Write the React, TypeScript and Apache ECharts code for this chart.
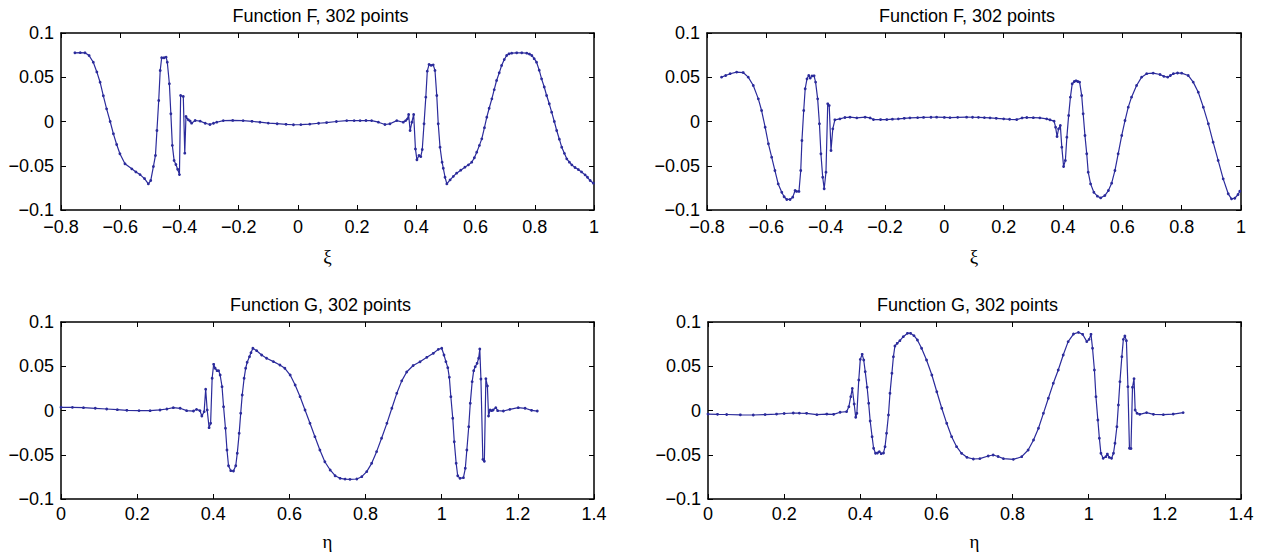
import React, { useEffect, useRef } from "react";
import * as echarts from "echarts";

// ---- Data ----
const TITLE_F = "Function F, 302 points";
const TITLE_G = "Function G, 302 points";
const XI_TICKS = { min: -0.8, max: 1, step: 0.2 };
const ETA_TICKS = { min: 0, max: 1.4, step: 0.2 };
const Y_TICKS = { min: -0.1, max: 0.1, step: 0.05 };

const F_LEFT: [number, number][] = [
  [-0.753, 0.0776], [-0.735, 0.0778], [-0.719, 0.0776], [-0.705, 0.0745], [-0.691, 0.067],
  [-0.679, 0.056], [-0.668, 0.0444], [-0.657, 0.029], [-0.646, 0.0143], [-0.634, 0.0],
  [-0.623, -0.0139], [-0.612, -0.026], [-0.601, -0.0365], [-0.584, -0.0478], [-0.561, -0.0535],
  [-0.547, -0.057], [-0.533, -0.06], [-0.518, -0.0645], [-0.505, -0.0705], [-0.497, -0.0667],
  [-0.488, -0.0509], [-0.481, -0.0384], [-0.476, -0.0102], [-0.47, 0.0237], [-0.465, 0.0576],
  [-0.46, 0.072], [-0.452, 0.072], [-0.445, 0.0727], [-0.441, 0.067], [-0.434, 0.0426],
  [-0.429, 0.0087], [-0.424, -0.027], [-0.418, -0.044], [-0.412, -0.0486], [-0.406, -0.054],
  [-0.4, -0.06], [-0.396, 0.0294], [-0.387, 0.0283], [-0.382, -0.0358], [-0.378, 0.0057],
  [-0.37, 0.0019], [-0.364, 0.0005], [-0.359, -0.0019], [-0.347, 0.0011], [-0.33, 0.0004],
  [-0.313, -0.002], [-0.297, -0.0034], [-0.285, -0.002], [-0.274, -0.0008], [-0.252, 0.001],
  [-0.22, 0.0012], [-0.185, 0.001], [-0.155, 0.0002], [-0.128, -0.0008], [-0.1, -0.0018],
  [-0.07, -0.0025], [-0.04, -0.0032], [-0.015, -0.0037], [0.01, -0.0035], [0.04, -0.003],
  [0.07, -0.002], [0.097, -0.0012], [0.13, 0.0], [0.165, 0.001], [0.19, 0.001], [0.21, 0.001],
  [0.23, 0.0011], [0.249, 0.001], [0.272, -0.0008], [0.294, -0.0034], [0.311, -0.0026], [0.334, 0.001],
  [0.356, -0.0008], [0.364, 0.001], [0.37, 0.003], [0.374, 0.0079], [0.379, -0.0102],
  [0.385, -0.0008], [0.391, 0.0079], [0.397, -0.031], [0.402, -0.0433], [0.409, -0.0384],
  [0.415, -0.0397], [0.42, -0.0317], [0.426, -0.0026], [0.432, 0.0275], [0.437, 0.0569],
  [0.443, 0.0645], [0.45, 0.0634], [0.457, 0.064], [0.463, 0.0577], [0.469, 0.0294],
  [0.474, -0.0026], [0.48, -0.029], [0.487, -0.046], [0.491, -0.0528], [0.497, -0.063],
  [0.503, -0.0705], [0.514, -0.066], [0.525, -0.062], [0.536, -0.0584], [0.55, -0.055],
  [0.564, -0.0516], [0.576, -0.049], [0.587, -0.046], [0.596, -0.041], [0.604, -0.0347],
  [0.613, -0.027], [0.621, -0.0196], [0.63, -0.007], [0.638, 0.0049], [0.646, 0.015],
  [0.655, 0.0256], [0.663, 0.036], [0.671, 0.0463], [0.68, 0.055], [0.688, 0.0633],
  [0.697, 0.07], [0.705, 0.0746], [0.713, 0.0765], [0.722, 0.0772], [0.739, 0.0776],
  [0.756, 0.0776], [0.773, 0.0772], [0.782, 0.0762], [0.79, 0.0746], [0.798, 0.071],
  [0.806, 0.067], [0.815, 0.058], [0.823, 0.0482], [0.832, 0.039], [0.84, 0.0294],
  [0.849, 0.02], [0.857, 0.0105], [0.866, 0.0], [0.874, -0.0102], [0.883, -0.02],
  [0.891, -0.029], [0.9, -0.036], [0.908, -0.0422], [0.917, -0.046], [0.925, -0.049],
  [0.936, -0.052], [0.947, -0.0543], [0.958, -0.057], [0.97, -0.0603], [0.978, -0.063],
  [0.987, -0.0667], [0.998, -0.0697],
];

const F_RIGHT: [number, number][] = [
  [-0.751, 0.0501], [-0.737, 0.052], [-0.722, 0.054], [-0.7, 0.0558], [-0.678, 0.0553],
  [-0.661, 0.0501], [-0.644, 0.0407], [-0.627, 0.0256], [-0.616, 0.0124], [-0.604, -0.0064],
  [-0.593, -0.0252], [-0.582, -0.0403], [-0.571, -0.0554], [-0.56, -0.0705], [-0.548, -0.08],
  [-0.54, -0.085], [-0.531, -0.0881], [-0.52, -0.0881], [-0.511, -0.0855], [-0.503, -0.078],
  [-0.498, -0.079], [-0.49, -0.079], [-0.484, -0.0554], [-0.48, -0.0215], [-0.474, 0.0124],
  [-0.469, 0.037], [-0.463, 0.0482], [-0.457, 0.052], [-0.452, 0.049], [-0.446, 0.0515],
  [-0.439, 0.0516], [-0.434, 0.0445], [-0.427, 0.0256], [-0.421, -0.0026], [-0.416, -0.0365],
  [-0.41, -0.063], [-0.405, -0.076], [-0.399, -0.0573], [-0.393, 0.02], [-0.388, 0.018],
  [-0.382, -0.0328], [-0.376, -0.0083], [-0.369, 0.0019], [-0.352, 0.003], [-0.335, 0.0045],
  [-0.318, 0.0049], [-0.295, 0.0041], [-0.267, 0.0049], [-0.25, 0.004], [-0.239, 0.0022],
  [-0.215, 0.0022], [-0.194, 0.0022], [-0.175, 0.0026], [-0.155, 0.003], [-0.135, 0.0036],
  [-0.116, 0.0041], [-0.09, 0.0044], [-0.07, 0.0046], [-0.045, 0.0048], [-0.026, 0.0049],
  [0.0, 0.0046], [0.019, 0.0044], [0.045, 0.0047], [0.075, 0.0049], [0.095, 0.0048],
  [0.115, 0.0047], [0.135, 0.0044], [0.154, 0.0041], [0.175, 0.0036], [0.2, 0.003], [0.22, 0.0025],
  [0.244, 0.0022], [0.262, 0.004], [0.278, 0.0045], [0.3, 0.0043], [0.322, 0.0041], [0.345, 0.003],
  [0.356, 0.0019], [0.37, 0.0004], [0.375, -0.0064], [0.38, -0.017], [0.385, -0.0083],
  [0.391, -0.0045], [0.396, -0.029], [0.402, -0.0509], [0.408, -0.044], [0.413, -0.0177],
  [0.419, 0.0068], [0.425, 0.0275], [0.431, 0.0426], [0.438, 0.0452], [0.444, 0.046],
  [0.45, 0.0452], [0.456, 0.0445], [0.463, 0.0294], [0.468, 0.0087], [0.474, -0.0158],
  [0.48, -0.0365], [0.485, -0.0573], [0.493, -0.0705], [0.504, -0.08], [0.516, -0.0844],
  [0.527, -0.0863], [0.541, -0.0837], [0.553, -0.078], [0.564, -0.0697], [0.575, -0.0554],
  [0.586, -0.0365], [0.598, -0.0158], [0.609, 0.0011], [0.62, 0.0162], [0.631, 0.0275],
  [0.648, 0.0407], [0.665, 0.0501], [0.682, 0.054], [0.704, 0.0546], [0.727, 0.0531],
  [0.74, 0.051], [0.753, 0.0501], [0.762, 0.052], [0.772, 0.054], [0.786, 0.0548],
  [0.8, 0.0546], [0.822, 0.052], [0.839, 0.0445], [0.856, 0.0331], [0.873, 0.0162],
  [0.89, -0.0026], [0.906, -0.0234], [0.923, -0.044], [0.94, -0.0648], [0.957, -0.0817],
  [0.968, -0.0874], [0.979, -0.0867], [0.99, -0.0825], [0.996, -0.0788],
];

const G_LEFT: [number, number][] = [
  [0.0, 0.0036], [0.03, 0.0035], [0.059, 0.0032], [0.09, 0.0025], [0.12, 0.0017],
  [0.148, 0.0009], [0.173, 0.0002], [0.205, -0.0001], [0.234, -0.0002],
  [0.26, 0.0006], [0.278, 0.0017], [0.295, 0.0032], [0.313, 0.0025], [0.33, -0.0002],
  [0.348, -0.0006], [0.356, 0.0013], [0.365, -0.0002], [0.37, -0.0062], [0.376, -0.0013],
  [0.38, 0.024], [0.384, 0.0006], [0.389, -0.0194], [0.393, -0.0145], [0.397, 0.0364],
  [0.401, 0.0522], [0.405, 0.0477], [0.41, 0.045], [0.414, 0.045], [0.418, 0.0401],
  [0.423, 0.0269], [0.427, 0.0043], [0.432, -0.0201], [0.436, -0.0446], [0.44, -0.0624],
  [0.446, -0.068], [0.453, -0.0684], [0.459, -0.0624], [0.463, -0.0484], [0.468, -0.0258],
  [0.472, -0.0032], [0.476, 0.0175], [0.481, 0.0364], [0.485, 0.0477], [0.489, 0.0545],
  [0.495, 0.0608], [0.499, 0.0653], [0.504, 0.0703], [0.514, 0.0676], [0.527, 0.0627],
  [0.54, 0.059], [0.558, 0.0552], [0.575, 0.0514], [0.588, 0.0477], [0.602, 0.0401],
  [0.615, 0.0288], [0.628, 0.0156], [0.641, 0.0006], [0.654, -0.0145], [0.667, -0.0296],
  [0.68, -0.0446], [0.693, -0.0579], [0.707, -0.0672], [0.72, -0.0737], [0.733, -0.0766],
  [0.746, -0.0775], [0.759, -0.0778], [0.777, -0.0774], [0.79, -0.0748], [0.803, -0.0691],
  [0.816, -0.0597], [0.829, -0.0465], [0.842, -0.0314], [0.856, -0.0145], [0.869, 0.0025],
  [0.882, 0.0194], [0.895, 0.0335], [0.908, 0.0435], [0.925, 0.0508], [0.943, 0.055],
  [0.961, 0.0601], [0.978, 0.0646], [0.991, 0.0691], [1.0, 0.0703], [1.006, 0.0627],
  [1.011, 0.0552], [1.016, 0.0484], [1.02, 0.0375], [1.024, 0.0156], [1.029, -0.0088],
  [1.033, -0.0353], [1.038, -0.0597], [1.042, -0.0737], [1.048, -0.0766], [1.057, -0.0759],
  [1.062, -0.0653], [1.066, -0.0446], [1.071, -0.0183], [1.075, 0.0081], [1.08, 0.0326],
  [1.084, 0.045], [1.088, 0.0495], [1.093, 0.0533], [1.097, 0.059], [1.1, 0.0695],
  [1.103, 0.0356], [1.108, -0.0552], [1.112, -0.0574], [1.116, 0.036], [1.12, 0.0277],
  [1.123, -0.0062], [1.127, 0.0006], [1.131, -0.0002], [1.135, 0.0006], [1.142, 0.0032],
  [1.147, -0.0002], [1.162, -0.0006], [1.179, 0.0013], [1.201, 0.0032], [1.219, 0.0025],
  [1.236, 0.0002], [1.251, -0.0006],
];

const G_RIGHT: [number, number][] = [
  [0.0, -0.004], [0.025, -0.0043], [0.049, -0.0045], [0.085, -0.0049], [0.119, -0.0051],
  [0.15, -0.0046], [0.18, -0.004], [0.2, -0.0034], [0.224, -0.0028], [0.24, -0.003],
  [0.259, -0.0032], [0.286, -0.0047], [0.312, -0.004], [0.33, -0.0043], [0.347, -0.002],
  [0.364, -0.0013], [0.37, 0.0043], [0.375, 0.0156], [0.379, 0.025], [0.384, 0.0073],
  [0.388, -0.0077], [0.391, -0.0032], [0.396, 0.0345], [0.4, 0.0578], [0.405, 0.0635],
  [0.409, 0.0571], [0.413, 0.0439], [0.418, 0.0262], [0.422, 0.0081], [0.426, -0.0119],
  [0.431, -0.0296], [0.435, -0.0427], [0.44, -0.0484], [0.445, -0.048], [0.45, -0.0465],
  [0.455, -0.0488], [0.461, -0.048], [0.465, -0.0409], [0.469, -0.0258], [0.474, -0.0051],
  [0.478, 0.0194], [0.483, 0.042], [0.487, 0.0608], [0.491, 0.0729], [0.497, 0.0759],
  [0.504, 0.0789], [0.513, 0.0834], [0.524, 0.0872], [0.532, 0.0872], [0.541, 0.0846],
  [0.55, 0.0797], [0.561, 0.0703], [0.574, 0.0571], [0.588, 0.0401], [0.601, 0.0212],
  [0.614, 0.0025], [0.627, -0.0145], [0.64, -0.0296], [0.653, -0.0409], [0.666, -0.0484],
  [0.68, -0.0529], [0.697, -0.0548], [0.714, -0.0544], [0.736, -0.0514], [0.749, -0.0503],
  [0.762, -0.052], [0.776, -0.0544], [0.802, -0.0552], [0.824, -0.0522], [0.841, -0.0446],
  [0.855, -0.0333], [0.868, -0.0201], [0.881, -0.0032], [0.894, 0.0138], [0.907, 0.0307],
  [0.92, 0.0458], [0.933, 0.0627], [0.946, 0.0778], [0.96, 0.0864], [0.973, 0.0883],
  [0.984, 0.0861], [0.995, 0.0778], [1.001, 0.0804], [1.006, 0.0861], [1.01, 0.0703],
  [1.015, 0.0458], [1.019, 0.0156], [1.024, -0.0107], [1.028, -0.0314], [1.032, -0.0484],
  [1.038, -0.054], [1.045, -0.0522], [1.049, -0.0492], [1.054, -0.053], [1.06, -0.054],
  [1.065, -0.0484], [1.069, -0.037], [1.074, -0.0183], [1.078, 0.0062], [1.082, 0.0326],
  [1.087, 0.0608], [1.091, 0.0804], [1.095, 0.0842], [1.099, 0.0789], [1.103, 0.0269],
  [1.107, -0.0427], [1.111, -0.043], [1.115, 0.0262], [1.119, 0.036], [1.122, 0.0006],
  [1.127, -0.0032], [1.134, -0.0043], [1.152, -0.0024], [1.17, -0.0043], [1.196, -0.0047],
  [1.222, -0.004], [1.248, -0.0024],
];

// ---- Layout / styling ----
const LINE_COLOR = "#2b2b9b";
const FONT = "Liberation Sans, Arial, Helvetica, sans-serif";
const SERIF = "Liberation Serif, DejaVu Serif, serif";

const PANELS = [
  { grid: { left: 61, top: 33, width: 533, height: 177 }, title: TITLE_F, ticks: XI_TICKS, name: "\u03be", data: F_LEFT, nameGap: 37, labelMargin: 8 },
  { grid: { left: 707, top: 33, width: 534, height: 177 }, title: TITLE_F, ticks: XI_TICKS, name: "\u03be", data: F_RIGHT, nameGap: 37, labelMargin: 8 },
  { grid: { left: 61, top: 322, width: 533, height: 177 }, title: TITLE_G, ticks: ETA_TICKS, name: "\u03b7", data: G_LEFT, nameGap: 33, labelMargin: 6 },
  { grid: { left: 708, top: 322, width: 533, height: 177 }, title: TITLE_G, ticks: ETA_TICKS, name: "\u03b7", data: G_RIGHT, nameGap: 33, labelMargin: 6 },
];

const fmt = (v: number) => {
  const r = Math.round(v * 100) / 100;
  return (r === 0 ? "0" : String(r)).replace("-", "\u2212");
};

const axisLine = { show: true, onZero: false, lineStyle: { color: "#000", width: 1.5 } };
const axisTick = { show: true, inside: true, length: 5, lineStyle: { color: "#000", width: 1 } };

export default function App() {
  const ref = useRef<HTMLDivElement>(null);

  useEffect(() => {
    if (!ref.current) return;
    const chart = echarts.init(ref.current, undefined, { renderer: "svg" });

    const grid: any[] = [];
    const xAxis: any[] = [];
    const yAxis: any[] = [];
    const series: any[] = [];
    const title: any[] = [];

    PANELS.forEach((p, i) => {
      grid.push({ ...p.grid, containLabel: false });
      title.push({
        text: p.title,
        left: p.grid.left + p.grid.width / 2 - 7,
        top: p.grid.top - 26,
        textAlign: "center",
        padding: 0,
        textStyle: { fontFamily: FONT, fontSize: 18, fontWeight: "normal", color: "#000" },
      });
      xAxis.push({
        gridIndex: i,
        type: "value",
        position: "bottom",
        min: p.ticks.min,
        max: p.ticks.max,
        interval: p.ticks.step,
        axisLine,
        axisTick,
        splitLine: { show: false },
        axisLabel: { show: true, margin: p.labelMargin, fontFamily: FONT, fontSize: 18, color: "#000", formatter: fmt },
        name: p.name,
        nameLocation: "middle",
        nameGap: p.nameGap,
        nameTextStyle: { fontFamily: SERIF, fontSize: 19, color: "#000" },
      });
      xAxis.push({
        gridIndex: i,
        type: "value",
        position: "top",
        min: p.ticks.min,
        max: p.ticks.max,
        interval: p.ticks.step,
        axisLine,
        axisTick,
        splitLine: { show: false },
        axisLabel: { show: false },
      });
      yAxis.push({
        gridIndex: i,
        type: "value",
        position: "left",
        min: Y_TICKS.min,
        max: Y_TICKS.max,
        interval: Y_TICKS.step,
        axisLine,
        axisTick,
        splitLine: { show: false },
        axisLabel: { show: true, margin: 7, fontFamily: FONT, fontSize: 18, color: "#000", formatter: fmt },
      });
      yAxis.push({
        gridIndex: i,
        type: "value",
        position: "right",
        min: Y_TICKS.min,
        max: Y_TICKS.max,
        interval: Y_TICKS.step,
        axisLine,
        axisTick,
        splitLine: { show: false },
        axisLabel: { show: false },
      });
      series.push({
        type: "line",
        xAxisIndex: 2 * i,
        yAxisIndex: 2 * i,
        data: p.data,
        symbol: "circle",
        symbolSize: 2.8,
        showAllSymbol: true,
        lineStyle: { color: LINE_COLOR, width: 1.2 },
        itemStyle: { color: LINE_COLOR },
        emphasis: { disabled: true },
        silent: true,
      });
    });

    chart.setOption({
      animation: false,
      backgroundColor: "#fff",
      title,
      grid,
      xAxis,
      yAxis,
      series,
    });

    return () => chart.dispose();
  }, []);

  return (
    <div
      ref={ref}
      style={{ position: "absolute", left: 0, top: 0, width: 1261, height: 556 }}
    />
  );
}
